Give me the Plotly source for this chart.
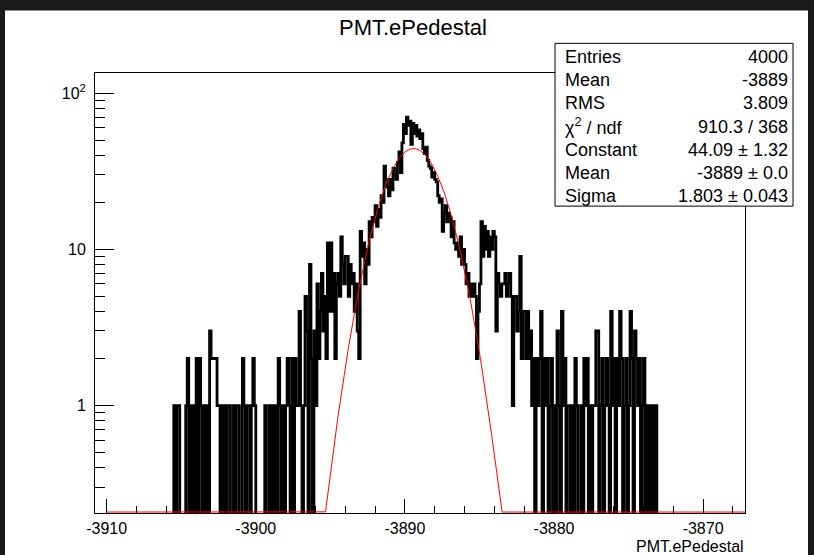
import numpy as np
import plotly.graph_objects as go

# ---------------- data ----------------
BIN_LOW = -3906.0
BIN_WIDTH = 0.1

left_tail = [0, 0, 0, 0, 0,
             1, 0, 1, 1, 0,
             0, 0, 0,
             1, 2, 0, 1, 0, 1, 0, 2, 0, 2, 1, 0, 1, 0, 1, 0, 3, 2, 2, 2, 2, 1, 1,
             0, 1, 0, 1, 0, 1, 1, 0, 0,
             1, 0, 1, 1, 0, 0,
             2, 1, 0, 1, 1, 0, 1, 2, 1,
             0, 0, 0, 0, 0, 0,
             1, 0, 0, 1, 0,
             1, 0, 1, 0, 2, 1, 0,
             1, 0, 1, 2, 1,
             0, 2, 0, 2, 1,
             1, 4, 1, 0, 1,
             5, 3, 0, 8, 2, 0, 3, 1,
             6, 2, 4, 7, 3, 5, 2, 11, 4]

core = [11, 4, 7, 2, 6, 7, 5, 12, 8, 6,
        9, 9, 5, 8, 6, 7, 4, 6, 3, 2,
        13, 9, 11, 6, 10, 8, 15, 12, 16, 15,
        19, 14, 18, 16, 22, 20, 34, 28, 25, 22,
        28, 24, 33, 30, 28, 36, 42, 31, 48, 63,
        55, 70, 62, 66, 47, 64, 55, 62, 53, 58,
        51, 55, 44, 41, 45, 37, 34, 33, 29, 31,
        28, 27, 22, 20, 21, 13, 17, 19, 15, 17,
        16, 12, 15, 11, 10, 11, 9, 12, 8, 10,
        8, 6, 7, 5, 6, 5, 6, 5, 2, 4,
        6, 15, 9, 14, 10, 13, 9, 12, 10, 13]

right_tail = [12, 3, 7, 6, 5, 6, 6, 7, 5, 6,
              7, 5, 1, 5, 5, 3, 4, 9, 2, 4,
              4, 2, 4, 2, 3, 1, 2, 0, 2, 1,
              2, 4, 0, 2, 1, 2, 0, 1, 2, 0,
              1, 0, 3, 1, 0, 4, 1, 2, 0, 1,
              1, 0, 1, 0, 2, 1, 0, 0, 1, 0,
              2, 1, 2, 0, 1, 0, 1, 1, 3, 3,
              0, 1, 2, 0, 1, 2, 1, 0, 4, 1,
              2, 0, 2, 1, 4, 2, 0, 1, 2, 0,
              1, 4, 2, 0, 3, 2, 1, 2, 0, 1,
              2, 0, 1, 0, 1, 0, 1, 0, 1, 0]

# Gaussian fit parameters (from the stats box / drawn curve)
FIT_CONST = 44.09
FIT_MEAN = -3889.42
FIT_SIGMA = 1.803
FIT_LOW = -3910.0

stat_labels = ["Entries", "Mean", "RMS", "\u03c7<sup>2</sup> / ndf", "Constant", "Mean", "Sigma"]
stat_values = ["4000", "-3889", "3.809", "910.3 / 368", "44.09 \u00b1 1.32", "-3889 \u00b1 0.0", "1.803 \u00b1 0.043"]

x_major = [-3910, -3900, -3890, -3880, -3870]
x_minor = [-3908, -3906, -3904, -3902, -3898, -3896, -3894, -3892, -3888, -3886,
           -3884, -3882, -3878, -3876, -3874, -3872, -3868]
y_major = [1, 10, 100]
y_major_text = ["1", "10", "10<sup>2</sup>"]
y_minor = [0.3, 0.4, 0.5, 0.6, 0.7, 0.8, 0.9, 2, 3, 4, 5, 6, 7, 8, 9,
           20, 30, 40, 50, 60, 70, 80, 90]

# ---------------- geometry ----------------
W, H = 814, 555
PL, PR, PT, PB = 95, 745, 72.7, 513.3
X_RANGE = [-3910.785, -3867.19]
Y_RANGE = [-0.6876, 2.128]


def fx(px):
    return (px - PL) / (PR - PL)


def fy(py):
    return (PB - py) / (PB - PT)


counts = np.array(left_tail + core + right_tail, dtype=float)
edges = BIN_LOW + BIN_WIDTH * np.arange(len(counts) + 1)
floor_val = 1e-3
disp = np.where(counts > 0, counts, floor_val)
hx = edges
hy = np.append(disp, floor_val)

fit_x = np.linspace(FIT_LOW, X_RANGE[1], 800)
fit_y = FIT_CONST * np.exp(-0.5 * ((fit_x - FIT_MEAN) / FIT_SIGMA) ** 2)
ymin_plot = 10 ** (Y_RANGE[0] + 0.006)
fit_y = np.maximum(fit_y, ymin_plot)

fig = go.Figure()
fig.add_trace(go.Scatter(x=hx, y=hy, mode="lines", line=dict(color="black", width=2.8, shape="hv"),
                         hoverinfo="skip", showlegend=False))
fig.add_trace(go.Scatter(x=fit_x, y=fit_y, mode="lines", line=dict(color="#ff0000", width=1),
                         hoverinfo="skip", showlegend=False))

FONT = "Liberation Sans, Arial, Helvetica, sans-serif"

fig.update_layout(
    width=W, height=H,
    margin=dict(l=PL, r=W - PR, t=PT, b=H - PB, pad=0),
    paper_bgcolor="#1a1a1a",
    plot_bgcolor="white",
    font=dict(family=FONT, color="black"),
    showlegend=False,
)

fig.update_xaxes(
    range=X_RANGE, showgrid=False, zeroline=False,
    showline=True, linecolor="black", linewidth=1, mirror=True,
    ticks="inside", ticklen=14, tickcolor="black", tickwidth=1,
    tickmode="array", tickvals=x_major, ticktext=[str(v) for v in x_major],
    tickfont=dict(size=16, color="black", family=FONT),
    ticklabelstandoff=1,
    minor=dict(tickmode="array", tickvals=x_minor, ticks="inside", ticklen=7,
               tickcolor="black", tickwidth=1, showgrid=False),
)
fig.update_yaxes(
    type="log", range=Y_RANGE, showgrid=False, zeroline=False,
    showline=True, linecolor="black", linewidth=1, mirror=True,
    ticks="inside", ticklen=19, tickcolor="black", tickwidth=1,
    tickmode="array", tickvals=y_major, ticktext=y_major_text,
    tickfont=dict(size=16, color="black", family=FONT),
    ticklabelstandoff=5,
    minor=dict(tickmode="array", tickvals=y_minor, ticks="inside", ticklen=10,
               tickcolor="black", tickwidth=1, showgrid=False),
)

shapes = [
    # white canvas inside the dark window border
    dict(type="rect", xref="paper", yref="paper", layer="below",
         x0=fx(5), x1=fx(808), y0=fy(H + 5), y1=fy(10),
         fillcolor="white", line=dict(width=0)),
    # stats box
    dict(type="rect", xref="paper", yref="paper", layer="above",
         x0=fx(555), x1=fx(793), y0=fy(206), y1=fy(43),
         fillcolor="white", line=dict(color="black", width=1)),
]

annotations = [
    dict(text="PMT.ePedestal", xref="paper", yref="paper", x=fx(413), y=fy(27),
         xanchor="center", yanchor="middle", showarrow=False,
         font=dict(size=22, color="black", family=FONT)),
    dict(text="PMT.ePedestal", xref="paper", yref="paper", x=fx(746), y=fy(546.5),
         xanchor="right", yanchor="middle", showarrow=False,
         font=dict(size=16, color="black", family=FONT)),
]
row_y0, row_dy = 56.7, 23.2
for k, (lab, val) in enumerate(zip(stat_labels, stat_values)):
    yy = row_y0 + k * row_dy
    annotations.append(dict(text=lab, xref="paper", yref="paper", x=fx(563), y=fy(yy),
                            xanchor="left", yanchor="middle", showarrow=False,
                            font=dict(size=18, color="black", family=FONT)))
    annotations.append(dict(text=val, xref="paper", yref="paper", x=fx(790), y=fy(yy),
                            xanchor="right", yanchor="middle", showarrow=False,
                            font=dict(size=18, color="black", family=FONT)))

fig.update_layout(shapes=shapes, annotations=annotations)
fig.write_html("out.html")
